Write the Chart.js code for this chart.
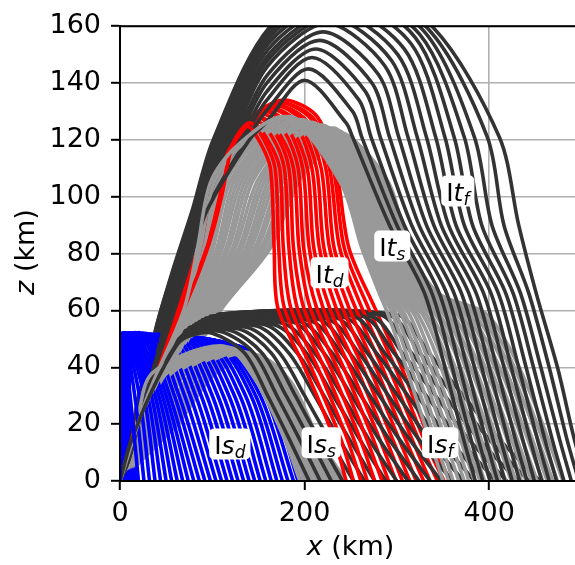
<!DOCTYPE html>
<html><head><meta charset="utf-8">
<script src="https://cdn.jsdelivr.net/npm/chart.js@4"></script>
<style>html,body{margin:0;padding:0;background:#fff}#wrap{width:575px;height:565px}</style>
</head><body><div id="wrap"><canvas id="c" width="575" height="565"></canvas></div>
<script>
// ---------- tick labels ----------
const xTicks = [0, 200, 400];
const zTicks = [0, 20, 40, 60, 80, 100, 120, 140, 160];

// ---------- It_f (dark) : rise / peak / fall knots ----------
const itfShared = [[0,0],[10,8]];
const itfRise32 = [30,30,29,29,28,28,28,27,27,27,26,26,26,25,25,25];
const itfRise55 = [54,53,52,51,50,49,48,47,46,45,44,43,42,41,40,40];
const itfRise75 = [74,73,72,71,70,69,68,67,66,65,64,63,62,61,59,58];
const itfRise95 = [94,93,92,91,90,89,88,87,86,85,84,83,82,81,79,78];
const itfRise120 = [140,137,134,131,128,125,122,119,116,113,110,108,106,104,102,101];
const itfRiseTop = [158,158,159,159,159,160,160,160,161,161,161,162,162,162,163,163];
const itfPeakX = [200,204,208,212,216,220,224,228,232,235,238,241,244,246,248,250];
const itfPeakZ = [141,145,149,152,155,158,161,163,165,167,169,171,172,173,174,175];
const itfFallTop = [245,252,259,266,273,280,287,294,301,308,315,320,325,330,334,338];
const itfFall121 = [252,262,272,282,292,302,312,322,332,342,352,362,373,384,398,411];
const itfFall90 = [292,300,308,316,324,332,340,348,356,364,373,382,392,403,416,432];
const itfFall66 = [330,338,346,354,362,370,378,386,394,402,410,418,426,434,443,451];
const itfFall40 = [352,360,368,376,384,392,400,408,416,424,432,440,448,456,465,474];
const itfFall15 = [372,380,388,396,404,412,420,428,436,444,452,460,468,476,484,492];
const itfEnd = [385,393,401,409,417,425,433,441,449,457,465,473,481,489,497,505];

// ---------- It_d (red) ----------
const itdShared = [[0,0],[18,20]];
const itdRise45 = [46,46,45,45,44,44,43,43,42,42,42,41,41,41,40,40];
const itdRise62 = [71,70,70,69,68,68,67,66,66,65,64,64,63,63,62,62];
const itdRise82 = [95,94,94,93,92,92,91,90,89,89,88,87,87,86,85,85];
const itdRise100 = [110,109,108,108,107,106,105,105,104,103,102,102,101,101,100,100];
const itdRise115 = [119,119,118,117,117,116,116,115,115,114,114,113,113,112,112,112];
const itdRiseK = [126,128,130,132,134,136,138,140,142,143,144,145,146,147,148,150];
const itdPeakX = [138,141,144,147,150,153,156,159,162,165,168,171,174,176,178,180];
const itdPeakZ = [125,126,126,127,128,128,129,130,130,131,131,132,132,133,133,134];
const itdFallK = [152,156,160,165,169,173,178,182,186,191,195,199,204,208,211,214];
const itdFall110 = [163,168,173,178,183,188,193,198,203,208,213,218,223,227,231,234];
const itdFall82 = [167,172,177,183,188,194,199,205,210,216,221,227,232,238,243,248];
const itdFall61 = [171,178,185,192,199,206,213,220,227,234,241,248,255,262,269,276];
const itdFall40 = [200,207,214,221,228,235,242,249,256,263,270,277,284,291,298,305];
const itdFall15 = [232,239,246,253,260,267,274,281,288,295,302,309,316,323,329,335];
const itdEnd = [245,253,261,268,276,284,291,299,306,314,321,329,336,344,351,358];

// ---------- It_s (gray) ----------
const itsRise30 = [30,31,32,33,34,35,37,38,39,40,41,42,43,44,45,46,47,49,50,51,52,53,54,55];
const itsRise60 = [69,71,72,74,76,78,79,81,83,85,86,88,90,92,93,95,97,99,100,102,104,106,107,109];
const itsRise82 = [84,87,91,94,98,101,105,108,111,115,118,122,125,129,132,136,139,142,146,149,153,156,160,163];
const itsRise105 = [98,102,106,110,115,119,123,127,131,135,139,143,148,152,156,160,164,168,172,176,181,185,189,193];
const itsRise118 = [127,131,136,140,144,149,153,157,161,166,170,174,179,183,187,192,196,200,204,209,213,217,222,226];
const itsPeakX = [180,183,186,188,191,194,197,200,203,205,208,211,214,217,220,222,225,228,231,234,237,239,242,245];
const itsPeakZ = [128,128,128,128,127,127,127,127,126,126,126,126,125,125,125,125,124,124,124,124,123,123,122,122];
const itsFall105 = [239,241,244,246,248,250,253,255,257,259,262,264,266,268,271,273,275,277,280,282,284,286,289,291];
const itsFall82 = [262,264,266,269,271,273,275,278,280,282,284,287,289,291,293,295,298,300,302,304,306,309,311,313];
const itsFall66 = [281,284,287,289,292,295,298,300,303,306,309,312,314,317,320,323,325,328,331,334,337,339,342,345];
const itsFall59 = [290,295,299,304,308,313,318,322,327,331,336,341,345,350,354,359,364,368,373,377,382,387,391,396];
const itsFall45 = [305,310,315,321,326,331,336,342,347,352,357,363,368,373,378,383,389,394,399,404,410,415,420,425];
const itsFall25 = [325,331,336,342,347,353,358,364,369,375,380,386,391,397,402,408,413,419,424,430,435,441,446,452];
const itsEnd = [350,356,361,367,373,378,384,390,395,401,407,412,418,424,429,435,440,446,452,458,463,469,474,480];

// ---------- Is_d (blue) ----------
const isdStartX = [0,0.5,1,1.5,2,2.5,3,3.5,4,4.5,5,5.5,6,6.5,7,7.5,8,8.5,9,9.5,10,10.5,11,11.5,12,12.5,13,13.5,14,14.5,15,15.5,16,16.5,17,17.5];
const isdRiseZ = 46;
const isdTopX = [3,4,5,6,8,10,12,15,18,22,26,30,35,40,45,50,55,60,65,70,75,80,85,90,95,100,104,108,112,116,119,122,125,127,129,131];
const isdTopZ = [52,52,52,52,52,52,52,52,52,52,51.8,51.6,51.4,51.2,51,51,50.8,50.6,50.4,50.2,50,50,49.8,49.6,49.4,49.2,49,48.8,48.6,48.4,48.2,48,47.8,47.6,47.4,47.2];
const isdFall30 = [11,16,21,26,30,34,38,42,46,50,54,59,64,70,76,82,88,94,100,106,112,118,124,130,136,142,147,152,157,162,166,169,172,174,176,178];
const isdEnd = [20,26,32,38,44,50,56,62,68,74,80,86,92,98,104,110,116,122,128,134,140,146,152,158,164,170,176,182,188,193,198,202,206,209,212,215];

// ---------- Is_s (gray) ----------
const issRise20 = [18,21,24,28,31,35,38,42,45,49,52,55,58,62];
const issRise38 = [35,40,46,51,56,62,67,72,78,83,88,94,99,104];
const issPeakX = [112,115,118,120,123,126,129,132,135,138,141,144,147,150];
const issPeakZ = [47.5,47,47,46.5,46.5,46,46,45.5,45.5,45,45,44.5,44.5,44];
const issFall35 = [148,151,154,156,159,162,165,168,171,174,177,179,182,185];
const issFall15 = [178,181,184,187,190,192,195,198,201,204,207,209,212,215];
const issEnd = [195,199,203,207,211,215,218,222,226,230,234,238,241,245];

// ---------- Is_f (dark) ----------
const isfShared = [[0,0],[11,13]];
const isfRise32 = [35,34,34,33,32,32,31,30,30,29,28,28,27,26,26,25,24,24,23,23,22,22];
const isfRise48 = [62,61,60,59,58,57,56,55,54,53,52,51,50,49,48,47,46,45,44,43,42,41];
const isfShoulderX = 75;
const isfPeakX = [100,110,119,129,138,148,157,167,176,186,195,205,214,224,233,243,252,262,271,281,290,300];
const isfPeakZ = [52,52.5,53,53.5,54,54.5,55,55,55.5,56,56,56.5,57,57,57.5,57.5,58,58,58,58.5,58.5,58.5];
const isfFall45 = [135,145,154,164,173,183,192,202,211,221,230,240,249,259,268,278,287,297,306,316,325,335];
const isfFall30 = [160,170,180,190,200,211,221,231,241,251,261,271,281,291,301,312,322,332,342,352,362,372];
const isfFall15 = [183,194,205,215,226,237,248,259,269,280,291,302,313,323,334,345,356,367,377,388,399,410];
const isfEnd = [205,217,229,241,253,265,276,288,300,312,324,336,348,360,372,384,395,407,419,431,443,455];

// ---------- in-plot labels ----------
const labelMain = ['I','I','I','I','I','I'];
const labelItal = ['s','s','s','t','t','t'];
const labelSub = ['d','s','f','d','s','f'];
const labelX = [119,218,347,227,295,366];
const labelZ = [13,13.5,13.5,73.3,82.7,102];

// ---------- build curves from the arrays ----------
function itfCurve(i){ return itfShared.concat([[itfRise32[i],32],[itfRise55[i],55],[itfRise75[i],75],[itfRise95[i],95],[itfRise120[i],120],[itfRiseTop[i],itfPeakZ[i]-15],[itfPeakX[i],itfPeakZ[i]],[itfFallTop[i],itfPeakZ[i]-15],[itfFall121[i],121],[itfFall90[i],90],[itfFall66[i],66],[itfFall40[i],40],[itfFall15[i],15],[itfEnd[i],0]]); }
function itdCurve(i){ return itdShared.concat([[itdRise45[i],45],[itdRise62[i],62],[itdRise82[i],82],[itdRise100[i],100],[itdRise115[i],115],[itdRiseK[i],itdPeakZ[i]-4],[itdPeakX[i],itdPeakZ[i]],[itdFallK[i],itdPeakZ[i]-6],[itdFall110[i],110],[itdFall82[i],82],[itdFall61[i],61],[itdFall40[i],40],[itdFall15[i],15],[itdEnd[i],0]]); }
function itsCurve(i){ return [[0,0],[itsRise30[i],30],[itsRise60[i],60],[itsRise82[i],82],[itsRise105[i],105],[itsRise118[i],118],[itsPeakX[i],itsPeakZ[i]],[itsFall105[i],105],[itsFall82[i],82],[itsFall66[i],66],[itsFall59[i],59],[itsFall45[i],45],[itsFall25[i],25],[itsEnd[i],0]]; }
function isdCurve(i){ return [[isdStartX[i],0],[isdStartX[i],isdRiseZ],[isdTopX[i],isdTopZ[i]],[isdFall30[i],30],[isdEnd[i],0]]; }
function issCurve(i){ return [[0,0],[issRise20[i],20],[issRise38[i],38],[issPeakX[i],issPeakZ[i]],[issFall35[i],35],[issFall15[i],15],[issEnd[i],0]]; }
function isfCurve(i){ return isfShared.concat([[isfRise32[i],32],[isfRise48[i],48],[isfShoulderX,isfPeakZ[i]-1],[isfPeakX[i],isfPeakZ[i]],[isfFall45[i],45],[isfFall30[i],30],[isfFall15[i],15],[isfEnd[i],0]]); }

const DARK = '#333333', RED = '#ff0000', GRAY = '#999999', BLUE = '#0000ff';
const families = [
  {n: isdEnd.length, f: isdCurve, c: BLUE},
  {n: issEnd.length, f: issCurve, c: GRAY},
  {n: itfEnd.length, f: itfCurve, c: DARK},
  {n: itdEnd.length, f: itdCurve, c: RED},
  {n: isfEnd.length, f: isfCurve, c: DARK},
  {n: itsEnd.length, f: itsCurve, c: GRAY}
];
const datasets = [];
const ptr = families.map(() => 0);
const K = 36;
for (let k = 0; k < K; k++) {
  families.forEach((fam, j) => {
    const target = Math.round((k + 1) * fam.n / K);
    while (ptr[j] < target) {
      const pts = fam.f(ptr[j]);
      datasets.push({
        data: pts.map(p => ({x: p[0], y: p[1]})),
        borderColor: fam.c, borderWidth: 3.6, pointRadius: 0, tension: 0.3,
        fill: false, clip: 0, borderCapStyle: 'butt', borderJoinStyle: 'round'
      });
      ptr[j]++;
    }
  });
}

const FONT = 'DejaVu Sans';
const decor = {
  id: 'decor',
  afterDatasetsDraw(chart) {
    const {ctx, chartArea: a, scales: {x, y}} = chart;
    ctx.save();
    ctx.strokeStyle = '#000'; ctx.lineWidth = 2;
    ctx.beginPath();
    ctx.moveTo(a.left, a.top); ctx.lineTo(a.right, a.top);
    ctx.moveTo(a.left, a.top); ctx.lineTo(a.left, a.bottom);
    ctx.moveTo(a.left, a.bottom); ctx.lineTo(a.right, a.bottom);
    ctx.stroke();
    for (let i = 0; i < labelMain.length; i++) {
      const cx = x.getPixelForValue(labelX[i]), cy = y.getPixelForValue(labelZ[i]);
      ctx.font = '25px "' + FONT + '"';
      const w1 = ctx.measureText(labelMain[i]).width;
      ctx.font = 'italic 25px "' + FONT + '"';
      const w2 = ctx.measureText(labelItal[i]).width;
      ctx.font = 'italic 17px "' + FONT + '"';
      const w3 = ctx.measureText(labelSub[i]).width;
      const tw = w1 + w2 + w3;
      const bw = tw + 10, bh = 31;
      ctx.fillStyle = '#fff';
      ctx.beginPath();
      ctx.roundRect(cx - bw / 2, cy - bh / 2, bw, bh, 5);
      ctx.fill();
      ctx.fillStyle = '#000'; ctx.textBaseline = 'alphabetic'; ctx.textAlign = 'left';
      const bx = cx - tw / 2, by = cy + 10;
      ctx.font = '25px "' + FONT + '"'; ctx.fillText(labelMain[i], bx, by);
      ctx.font = 'italic 25px "' + FONT + '"'; ctx.fillText(labelItal[i], bx + w1, by);
      ctx.font = 'italic 17px "' + FONT + '"'; ctx.fillText(labelSub[i], bx + w1 + w2, by + 4);
    }
    ctx.restore();
  },
  afterDraw(chart) {
    const {ctx} = chart;
    ctx.save();
    ctx.fillStyle = '#000'; ctx.textBaseline = 'alphabetic'; ctx.textAlign = 'left';
    ctx.font = 'italic 27px "' + FONT + '"';
    const xa = ctx.measureText('x').width;
    ctx.font = '27px "' + FONT + '"';
    const xb = ctx.measureText(' (km)').width;
    let sx = 350.5 - (xa + xb) / 2;
    ctx.font = 'italic 27px "' + FONT + '"'; ctx.fillText('x', sx, 555);
    ctx.font = '27px "' + FONT + '"'; ctx.fillText(' (km)', sx + xa, 555);
    ctx.translate(34, 252); ctx.rotate(-Math.PI / 2);
    ctx.font = 'italic 27px "' + FONT + '"';
    const za = ctx.measureText('z').width;
    ctx.font = '27px "' + FONT + '"';
    const zb = ctx.measureText(' (km)').width;
    sx = -(za + zb) / 2;
    ctx.font = 'italic 27px "' + FONT + '"'; ctx.fillText('z', sx, 0);
    ctx.font = '27px "' + FONT + '"'; ctx.fillText(' (km)', sx + za, 0);
    ctx.restore();
  }
};

const gridOpts = {color: '#b0b0b0', lineWidth: 1.6, tickColor: '#000', tickLength: 9, tickWidth: 2, drawTicks: true};
new Chart(document.getElementById('c'), {
  type: 'line',
  data: {datasets},
  options: {
    responsive: false, animation: false, devicePixelRatio: 1, events: [],
    layout: {padding: {top: 18.5, right: 0, left: 0, bottom: 0}},
    plugins: {legend: {display: false}, tooltip: {enabled: false}},
    scales: {
      x: {
        type: 'linear', min: 0, max: 493,
        afterBuildTicks: s => { s.ticks = xTicks.map(v => ({value: v})); },
        afterFit: s => { s.height = 84; },
        grid: gridOpts, border: {color: '#000', width: 2},
        ticks: {color: '#000', font: {family: FONT, size: 27}, padding: 8, maxRotation: 0, autoSkip: false}
      },
      y: {
        type: 'linear', min: 0, max: 160,
        afterBuildTicks: s => { s.ticks = zTicks.map(v => ({value: v})); },
        afterFit: s => { s.width = 120; },
        grid: gridOpts, border: {color: '#000', width: 2},
        ticks: {color: '#000', font: {family: FONT, size: 27}, padding: 10, autoSkip: false}
      }
    }
  },
  plugins: [decor]
});
</script></body></html>
